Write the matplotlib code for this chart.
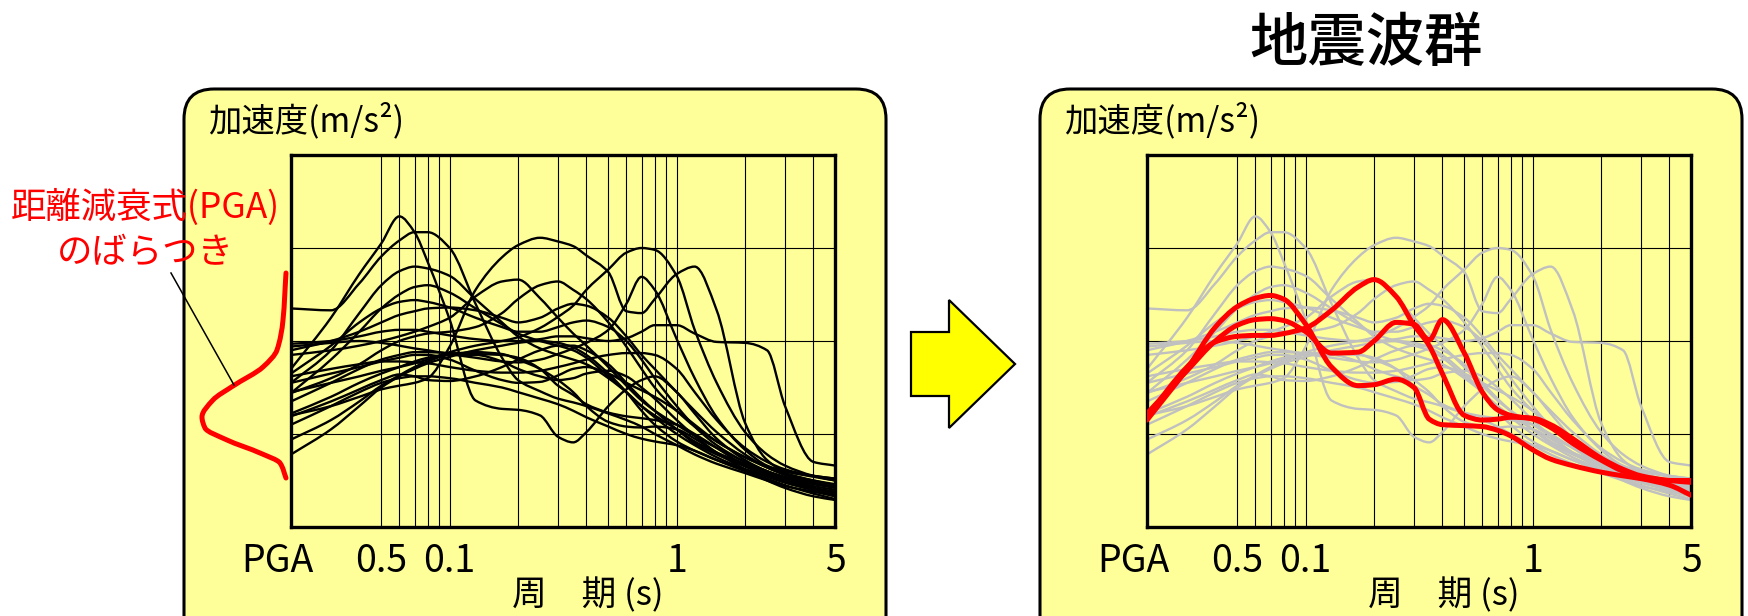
import numpy as np
import matplotlib
matplotlib.use("Agg")
import matplotlib.pyplot as plt
import matplotlib.transforms as mtransforms
from matplotlib.path import Path
from matplotlib.patches import PathPatch, FancyBboxPatch, Polygon
from matplotlib.lines import Line2D
from matplotlib.ticker import FixedLocator, FixedFormatter, NullFormatter
from matplotlib import font_manager

# ---------------- data ----------------
periods = [0.02, 0.03, 0.04, 0.05, 0.06, 0.07, 0.08, 0.1, 0.13, 0.17, 0.2, 0.25, 0.3,
           0.35, 0.4, 0.5, 0.6, 0.7, 0.8, 1.0, 1.2, 1.5, 2.0, 2.5, 3.0, 4.0, 5.0]

wave_01 = [1.70, 2.25, 2.72, 3.05, 3.34, 3.17, 2.85, 2.23, 1.36, 1.27, 1.26, 1.20, 0.97, 0.91, 1.02, 1.30, 1.48, 1.58, 1.62, 1.45, 1.22, 0.95, 0.72, 0.60, 0.54, 0.47, 0.43]
wave_02 = [2.35, 2.33, 2.62, 2.91, 3.08, 3.17, 3.17, 3.00, 2.40, 1.82, 1.58, 1.46, 1.38, 1.34, 1.30, 1.22, 1.15, 1.08, 1.00, 0.88, 0.78, 0.68, 0.58, 0.50, 0.44, 0.38, 0.33]
wave_03 = [1.20, 1.30, 1.40, 1.48, 1.52, 1.55, 1.60, 1.94, 2.55, 2.90, 3.03, 3.11, 3.07, 3.02, 2.92, 2.74, 2.32, 2.30, 2.45, 2.72, 2.80, 2.33, 1.12, 0.72, 0.60, 0.55, 0.52]
wave_04 = [1.45, 1.55, 1.62, 1.68, 1.72, 1.76, 1.80, 1.88, 1.95, 2.00, 2.04, 2.14, 2.26, 2.38, 2.55, 2.77, 2.95, 3.00, 2.98, 2.70, 2.12, 1.55, 1.02, 0.78, 0.66, 0.55, 0.50]
wave_05 = [1.94, 1.98, 2.00, 1.98, 1.95, 1.92, 1.90, 1.86, 1.82, 1.78, 1.77, 1.80, 1.86, 1.92, 1.98, 2.12, 2.40, 2.69, 2.55, 2.02, 1.60, 1.18, 0.83, 0.66, 0.60, 0.54, 0.50]
wave_06 = [1.97, 2.00, 2.05, 2.10, 2.12, 2.12, 2.10, 2.06, 2.02, 2.00, 2.00, 2.02, 2.05, 2.05, 2.03, 2.00, 2.03, 2.10, 2.17, 2.17, 2.08, 1.99, 1.98, 1.90, 1.30, 0.70, 0.66]
wave_07 = [1.85, 1.90, 1.95, 2.00, 2.05, 2.10, 2.15, 2.25, 2.48, 2.64, 2.66, 2.46, 2.25, 2.08, 1.95, 1.72, 1.52, 1.36, 1.25, 1.10, 0.98, 0.85, 0.70, 0.60, 0.52, 0.42, 0.36]
wave_08 = [1.55, 1.90, 2.30, 2.60, 2.75, 2.80, 2.78, 2.70, 2.45, 2.20, 2.05, 1.92, 1.85, 1.80, 1.75, 1.60, 1.45, 1.30, 1.20, 1.05, 0.92, 0.80, 0.68, 0.58, 0.50, 0.40, 0.33]
wave_09 = [1.44, 1.60, 1.75, 1.90, 2.00, 2.05, 2.08, 2.10, 2.15, 2.30, 2.45, 2.60, 2.64, 2.55, 2.45, 2.20, 1.94, 1.70, 1.50, 1.25, 1.08, 0.92, 0.75, 0.65, 0.58, 0.50, 0.45]
wave_10 = [0.78, 1.05, 1.30, 1.50, 1.62, 1.70, 1.76, 1.83, 1.90, 1.95, 1.98, 2.00, 1.98, 1.93, 1.85, 1.65, 1.45, 1.25, 1.10, 0.92, 0.82, 0.72, 0.62, 0.55, 0.48, 0.40, 0.35]
wave_11 = [0.94, 1.15, 1.35, 1.52, 1.63, 1.72, 1.78, 1.85, 1.85, 1.78, 1.70, 1.62, 1.58, 1.60, 1.65, 1.68, 1.62, 1.50, 1.38, 1.15, 0.98, 0.80, 0.62, 0.50, 0.42, 0.33, 0.29]
wave_12 = [1.19, 1.35, 1.48, 1.58, 1.64, 1.62, 1.58, 1.57, 1.62, 1.72, 1.80, 1.90, 1.95, 1.95, 1.90, 1.75, 1.55, 1.38, 1.25, 1.05, 0.90, 0.78, 0.66, 0.58, 0.52, 0.46, 0.42]
wave_13 = [1.22, 1.40, 1.55, 1.65, 1.72, 1.78, 1.82, 1.86, 1.88, 1.86, 1.80, 1.70, 1.58, 1.45, 1.30, 1.13, 1.08, 1.07, 1.08, 1.05, 0.95, 0.80, 0.65, 0.56, 0.50, 0.42, 0.38]
wave_14 = [1.35, 1.55, 1.70, 1.80, 1.85, 1.88, 1.88, 1.87, 1.86, 1.85, 1.82, 1.70, 1.52, 1.42, 1.32, 1.23, 1.19, 1.17, 1.15, 1.10, 1.00, 0.85, 0.66, 0.55, 0.48, 0.40, 0.36]
wave_15 = [1.55, 1.65, 1.72, 1.78, 1.82, 1.85, 1.85, 1.80, 1.68, 1.58, 1.55, 1.56, 1.63, 1.70, 1.72, 1.65, 1.55, 1.47, 1.40, 1.25, 1.10, 0.92, 0.75, 0.64, 0.57, 0.50, 0.46]
wave_16 = [1.65, 1.95, 2.20, 2.35, 2.42, 2.44, 2.42, 2.36, 2.25, 2.15, 2.10, 2.10, 2.15, 2.20, 2.22, 2.15, 2.00, 1.80, 1.60, 1.30, 1.08, 0.88, 0.70, 0.60, 0.53, 0.44, 0.40]
wave_17 = [1.44, 1.80, 2.10, 2.35, 2.50, 2.58, 2.60, 2.52, 2.35, 2.18, 2.08, 2.00, 1.95, 1.90, 1.82, 1.62, 1.45, 1.30, 1.18, 1.00, 0.88, 0.75, 0.62, 0.54, 0.48, 0.41, 0.37]
wave_18 = [1.90, 2.00, 2.10, 2.20, 2.28, 2.32, 2.35, 2.36, 2.33, 2.25, 2.20, 2.25, 2.35, 2.40, 2.38, 2.25, 2.05, 1.85, 1.70, 1.45, 1.25, 1.02, 0.78, 0.64, 0.56, 0.48, 0.43]
wave_19 = [1.62, 1.70, 1.75, 1.78, 1.78, 1.77, 1.76, 1.72, 1.68, 1.66, 1.66, 1.68, 1.72, 1.76, 1.80, 1.85, 1.87, 1.87, 1.85, 1.70, 1.45, 1.15, 0.85, 0.70, 0.62, 0.55, 0.52]
wave_20 = [1.10, 1.30, 1.45, 1.55, 1.60, 1.62, 1.62, 1.60, 1.55, 1.50, 1.45, 1.38, 1.32, 1.25, 1.18, 1.08, 1.00, 0.95, 0.92, 0.88, 0.82, 0.72, 0.60, 0.52, 0.45, 0.36, 0.30]

selected_1 = [1.19, 1.72, 1.99, 2.05, 2.06, 2.06, 2.08, 2.14, 2.33, 2.58, 2.66, 2.48, 2.17, 1.95, 1.65, 1.20, 1.15, 1.16, 1.18, 1.17, 1.10, 0.95, 0.74, 0.62, 0.55, 0.50, 0.48]
selected_2 = [1.22, 1.68, 2.00, 2.17, 2.23, 2.24, 2.22, 2.10, 1.87, 1.88, 2.00, 2.20, 2.18, 2.01, 2.23, 1.87, 1.45, 1.26, 1.20, 1.16, 1.07, 0.90, 0.72, 0.60, 0.54, 0.50, 0.50]
selected_3 = [1.15, 1.70, 2.15, 2.37, 2.46, 2.49, 2.45, 2.18, 1.72, 1.52, 1.53, 1.59, 1.50, 1.16, 1.10, 1.09, 1.08, 1.04, 0.98, 0.83, 0.73, 0.66, 0.59, 0.55, 0.52, 0.45, 0.34]

waves = [wave_01, wave_02, wave_03, wave_04, wave_05, wave_06, wave_07, wave_08, wave_09, wave_10,
         wave_11, wave_12, wave_13, wave_14, wave_15, wave_16, wave_17, wave_18, wave_19, wave_20]
selected = [selected_1, selected_2, selected_3]

tick_periods = [0.05, 0.1, 1, 5]
tick_labels = ["0.5", "0.1", "1", "5"]
grid_periods = [0.05, 0.06, 0.07, 0.08, 0.09, 0.1, 0.2, 0.3, 0.4, 0.5, 0.6, 0.7, 0.8, 0.9, 1, 2, 3, 4]
grid_levels = [1, 2, 3]

title_text = "地震波群"
ylabel_text = "加速度(m/s²)"
xlabel_text = "周　期 (s)"
pga_text = "PGA"
note_lines = ["距離減衰式(PGA)", "のばらつき"]

# spread sketch (PGA scatter of attenuation relation), drawn in pixel space
spread_y = [273, 320, 350, 367, 386, 400, 417, 428, 440, 453, 463, 478]
spread_x = [286, 283, 277, 263, 233, 213, 202, 205, 227, 260, 280, 286]

# ---------------- style ----------------
W, H = 1748, 616
BOX_YELLOW = "#FFFF99"
plt.rcParams['font.family'] = ['Noto Sans CJK JP', 'DejaVu Sans']
available = {f.name for f in font_manager.fontManager.ttflist}
latin_narrow = 'Liberation Sans Narrow' if 'Liberation Sans Narrow' in available else 'Noto Sans CJK JP'

fig = plt.figure(figsize=(W / 100, H / 100), dpi=100)
fig.patch.set_facecolor('white')
pix = mtransforms.Affine2D().scale(1 / W, -1 / H).translate(0, 1) + fig.transFigure


def pchip_slopes(t, y):
    t = np.asarray(t, float)
    y = np.asarray(y, float)
    h = np.diff(t)
    delta = np.diff(y) / h
    n = len(t)
    d = np.zeros(n)
    for k in range(1, n - 1):
        if delta[k - 1] * delta[k] > 0:
            w1 = 2 * h[k] + h[k - 1]
            w2 = h[k] + 2 * h[k - 1]
            d[k] = (w1 + w2) / (w1 / delta[k - 1] + w2 / delta[k])
    d[0] = delta[0]
    d[-1] = delta[-1]
    return d


def smooth_bezier(t, y):
    t = np.asarray(t, float)
    y = np.asarray(y, float)
    d = pchip_slopes(t, y)
    verts = [(t[0], y[0])]
    codes = [Path.MOVETO]
    for k in range(len(t) - 1):
        h = t[k + 1] - t[k]
        verts += [(t[k] + h / 3, y[k] + d[k] * h / 3),
                  (t[k + 1] - h / 3, y[k + 1] - d[k + 1] * h / 3),
                  (t[k + 1], y[k + 1])]
        codes += [Path.CURVE4] * 3
    return np.array(verts), codes


def curve_path(per, val):
    verts, codes = smooth_bezier(np.log10(per), val)
    verts[:, 0] = 10 ** verts[:, 0]
    return Path(verts, codes)


# ---------------- rounded panels ----------------
for x0 in (184, 1040):
    fig.add_artist(FancyBboxPatch((x0, 89), 702, 600,
                                  boxstyle="round,pad=0,rounding_size=30",
                                  transform=pix, facecolor=BOX_YELLOW,
                                  edgecolor='black', linewidth=2.2, zorder=-5))

# arrow
arrow_pts = [(911, 332), (949, 332), (949, 300), (1015, 364), (949, 428), (949, 396), (911, 396)]
fig.add_artist(Polygon(arrow_pts, closed=True, transform=pix, facecolor='#FFFF00',
                       edgecolor='black', linewidth=1.6, zorder=2))

AX_W = 544.4
AX_H = 372
AX_BOTTOM = 527
label_pad_pt = 11


def make_axes(x0px):
    ax = fig.add_axes([x0px / W, (H - AX_BOTTOM) / H, AX_W / W, AX_H / H])
    ax.set_xscale('log')
    ax.set_xlim(0.02, 5)
    ax.set_ylim(0, 4)
    ax.set_facecolor(BOX_YELLOW)
    ax.xaxis.set_major_locator(FixedLocator(tick_periods))
    ax.xaxis.set_major_formatter(FixedFormatter(tick_labels))
    ax.xaxis.set_minor_locator(FixedLocator(grid_periods))
    ax.xaxis.set_minor_formatter(NullFormatter())
    ax.yaxis.set_major_locator(FixedLocator(grid_levels))
    ax.tick_params(axis='both', which='both', length=0)
    ax.tick_params(axis='x', which='major', pad=label_pad_pt, labelsize=27,
                   labelfontfamily=latin_narrow)
    ax.tick_params(axis='y', labelleft=False)
    ax.set_axisbelow(True)
    ax.grid(True, which='both', axis='x', color='black', linewidth=0.8)
    ax.grid(True, which='major', axis='y', color='black', linewidth=0.8)
    for s in ax.spines.values():
        s.set_linewidth(2.4)
        s.set_color('black')
    # PGA label, left of first tick position
    trans = mtransforms.offset_copy(ax.get_xaxis_transform(), fig=fig,
                                    x=-14, y=-label_pad_pt * 100 / 72, units='dots')
    ax.text(periods[0], 0, pga_text, transform=trans, ha='center', va='top',
            fontsize=27, family=latin_narrow, clip_on=False)
    ax.set_xlabel(xlabel_text, fontsize=25, va='center')
    ax.xaxis.set_label_coords((588 - 291) / AX_W, -(596 - AX_BOTTOM) / AX_H)
    ax.set_ylabel(ylabel_text, rotation=0, fontsize=24, ha='left', va='center')
    ax.yaxis.set_label_coords((208 - 291) / AX_W, (AX_BOTTOM - 121) / AX_H)
    return ax


ax1 = make_axes(291)
for w in waves:
    ax1.add_patch(PathPatch(curve_path(periods, w), fill=False, edgecolor='black',
                            linewidth=1.7, zorder=2))

ax2 = make_axes(1147)
for w in waves:
    ax2.add_patch(PathPatch(curve_path(periods, w), fill=False, edgecolor='#C0C0C0',
                            linewidth=1.7, zorder=2))
for s in selected:
    ax2.add_patch(PathPatch(curve_path(periods, s), fill=False, edgecolor='#FF0000',
                            linewidth=3.6, zorder=3, capstyle='round', joinstyle='round'))

# spread sketch and its leader line
sv, sc = smooth_bezier(spread_y, spread_x)
fig.add_artist(PathPatch(Path(sv[:, ::-1], sc), transform=pix, fill=False,
                         edgecolor='#FF0000', linewidth=3.6, zorder=3, capstyle='round'))
fig.add_artist(Line2D([171, 234], [273, 385], transform=pix, color='black',
                      linewidth=1.1, zorder=3))

fig.text(145 / W, 1 - 207 / H, note_lines[0], color='#FF0000', fontsize=25.5,
         ha='center', va='center')
fig.text(145 / W, 1 - 252 / H, note_lines[1], color='#FF0000', fontsize=25.5,
         ha='center', va='center')

fig.text(1366 / W, 1 - 45 / H, title_text, fontsize=42, fontweight='medium',
         ha='center', va='center')

fig.savefig("out.png", dpi=100, facecolor='white')
